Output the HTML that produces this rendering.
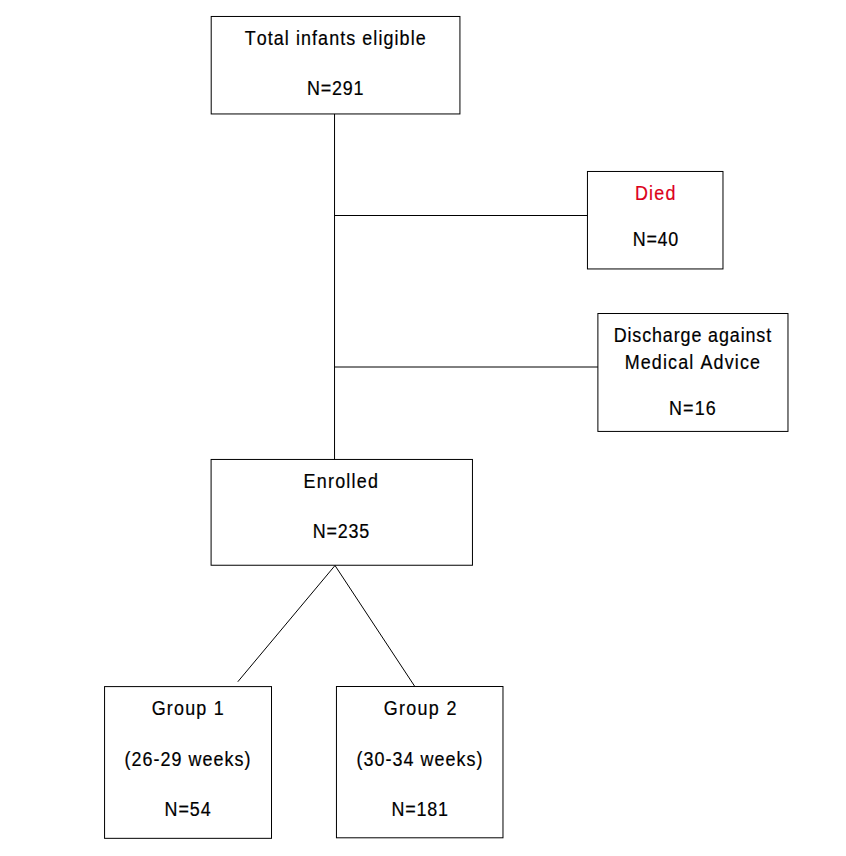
<!DOCTYPE html><html><head><meta charset="utf-8"><style>html,body{margin:0;padding:0;background:#fff;width:846px;height:856px;overflow:hidden}svg{display:block}text{font-family:"Liberation Sans",sans-serif;font-kerning:none}</style></head><body>
<svg width="846" height="856" viewBox="0 0 846 856">
<rect x="0" y="0" width="846" height="856" fill="#fff"/>
<g fill="none" stroke="#000" stroke-width="1">
<rect x="211.2" y="16.47" width="248.73" height="97.48"/>
<rect x="587.45" y="171.47" width="135.53" height="97.48"/>
<rect x="597.89" y="313.51" width="190.09" height="117.91"/>
<rect x="211.09" y="459.45" width="261.36" height="105.79"/>
<rect x="104.56" y="686.6" width="166.95" height="151.73"/>
<rect x="336.45" y="686.51" width="166.53" height="151.29"/>
<line x1="334.54" y1="113.95" x2="334.54" y2="459.45"/>
<line x1="334.54" y1="215.51" x2="587.45" y2="215.51"/>
<line x1="334.54" y1="367.0" x2="597.89" y2="367.0"/>
<line x1="335.0" y1="565.5" x2="237.8" y2="681.75"/>
<line x1="335.0" y1="565.5" x2="414.7" y2="686.3"/>
</g>
<text transform="translate(244.64,44.50) scale(0.92,1)" x="0" y="0" font-size="19.5" fill="#000" stroke="#000" stroke-width="0.2" textLength="196.82" lengthAdjust="spacing">Total infants eligible</text>
<text transform="translate(307.01,94.90) scale(0.92,1)" x="0" y="0" font-size="19.5" fill="#000" stroke="#000" stroke-width="0.2" textLength="61.28" lengthAdjust="spacing">N=291</text>
<text transform="translate(634.97,199.70) scale(0.92,1)" x="0" y="0" font-size="19.5" fill="#dc0018" stroke="#dc0018" stroke-width="0.2" textLength="43.92" lengthAdjust="spacing">Died</text>
<text transform="translate(632.80,245.90) scale(0.92,1)" x="0" y="0" font-size="19.5" fill="#000" stroke="#000" stroke-width="0.2" textLength="49.33" lengthAdjust="spacing">N=40</text>
<text transform="translate(613.65,341.70) scale(0.92,1)" x="0" y="0" font-size="19.5" fill="#000" stroke="#000" stroke-width="0.2" textLength="171.24" lengthAdjust="spacing">Discharge against</text>
<text transform="translate(624.66,368.80) scale(0.92,1)" x="0" y="0" font-size="19.5" fill="#000" stroke="#000" stroke-width="0.2" textLength="147.08" lengthAdjust="spacing">Medical Advice</text>
<text transform="translate(668.93,414.80) scale(0.92,1)" x="0" y="0" font-size="19.5" fill="#000" stroke="#000" stroke-width="0.2" textLength="50.99" lengthAdjust="spacing">N=16</text>
<text transform="translate(303.61,487.90) scale(0.92,1)" x="0" y="0" font-size="19.5" fill="#000" stroke="#000" stroke-width="0.2" textLength="80.84" lengthAdjust="spacing">Enrolled</text>
<text transform="translate(312.79,537.90) scale(0.92,1)" x="0" y="0" font-size="19.5" fill="#000" stroke="#000" stroke-width="0.2" textLength="61.26" lengthAdjust="spacing">N=235</text>
<text transform="translate(151.68,714.50) scale(0.92,1)" x="0" y="0" font-size="19.5" fill="#000" stroke="#000" stroke-width="0.2" textLength="78.23" lengthAdjust="spacing">Group 1</text>
<text transform="translate(124.62,766.30) scale(0.92,1)" x="0" y="0" font-size="19.5" fill="#000" stroke="#000" stroke-width="0.2" textLength="136.73" lengthAdjust="spacing">(26-29 weeks)</text>
<text transform="translate(164.51,815.90) scale(0.92,1)" x="0" y="0" font-size="19.5" fill="#000" stroke="#000" stroke-width="0.2" textLength="50.14" lengthAdjust="spacing">N=54</text>
<text transform="translate(383.63,714.50) scale(0.92,1)" x="0" y="0" font-size="19.5" fill="#000" stroke="#000" stroke-width="0.2" textLength="79.18" lengthAdjust="spacing">Group 2</text>
<text transform="translate(356.45,766.30) scale(0.92,1)" x="0" y="0" font-size="19.5" fill="#000" stroke="#000" stroke-width="0.2" textLength="136.85" lengthAdjust="spacing">(30-34 weeks)</text>
<text transform="translate(391.53,815.90) scale(0.92,1)" x="0" y="0" font-size="19.5" fill="#000" stroke="#000" stroke-width="0.2" textLength="61.23" lengthAdjust="spacing">N=181</text>
</svg></body></html>
